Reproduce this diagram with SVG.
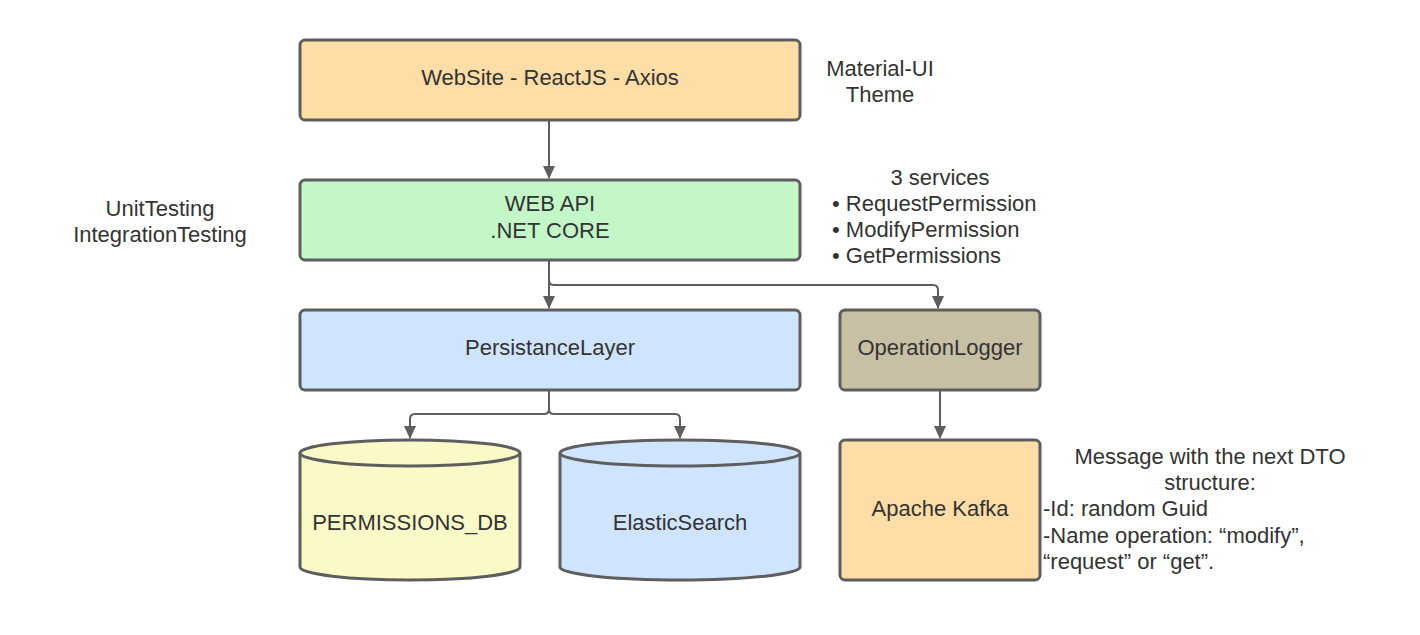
<svg xmlns="http://www.w3.org/2000/svg" width="1420" height="635" viewBox="0 0 1420 635">
<style>
.box{stroke:#5e5e5e;stroke-width:3}
.t{font-family:"Liberation Sans",Arial,sans-serif;font-size:22px;fill:#333333}
.c{text-anchor:middle}
.ln{fill:none;stroke:#5e5e5e;stroke-width:2}
</style>
<defs>
<marker id="ah" markerWidth="13" markerHeight="13" refX="12" refY="6.5" orient="auto" markerUnits="userSpaceOnUse">
<path d="M0,0.5 L13,6.5 L0,12.5 Z" fill="#5e5e5e"/>
</marker>
</defs>
<rect width="1420" height="635" fill="#ffffff"/>
<g id="connectors">
<path class="ln" d="M549,121 V178" marker-end="url(#ah)"/>
<path class="ln" d="M549,261 V308" marker-end="url(#ah)"/>
<path class="ln" d="M549,261 V280 Q549,285 554,285 H933 Q938,285 938,290 V308" marker-end="url(#ah)"/>
<path class="ln" d="M549,391 V409 Q549,414 544,414 H415 Q410,414 410,419 V438" marker-end="url(#ah)"/>
<path class="ln" d="M549,391 V409 Q549,414 554,414 H675 Q680,414 680,419 V438" marker-end="url(#ah)"/>
<path class="ln" d="M940,391 V438" marker-end="url(#ah)"/>
</g>
<g id="website">
<rect class="box" x="300" y="40" width="500" height="80" rx="5" fill="#ffdda6"/>
<text class="t c" x="550" y="85">WebSite - ReactJS - Axios</text>
</g>
<g id="material-note">
<text class="t c" x="880" y="76">Material-UI</text>
<text class="t c" x="880" y="102">Theme</text>
</g>
<g id="webapi">
<rect class="box" x="300" y="180" width="500" height="80" rx="5" fill="#c3f7c8"/>
<text class="t c" x="550" y="211">WEB API</text>
<text class="t c" x="550" y="238">.NET CORE</text>
</g>
<g id="testing-note">
<text class="t c" x="160" y="216">UnitTesting</text>
<text class="t c" x="160" y="242">IntegrationTesting</text>
</g>
<g id="services-note">
<text class="t c" x="940" y="185">3 services</text>
<text class="t" x="832" y="211">• RequestPermission</text>
<text class="t" x="832" y="237">• ModifyPermission</text>
<text class="t" x="832" y="263">• GetPermissions</text>
</g>
<g id="persistance">
<rect class="box" x="300" y="310" width="500" height="80" rx="5" fill="#cfe4ff"/>
<text class="t c" x="550" y="355">PersistanceLayer</text>
</g>
<g id="operationlogger">
<rect class="box" x="840" y="310" width="200" height="80" rx="5" fill="#c7c0a4"/>
<text class="t c" x="940" y="355">OperationLogger</text>
</g>
<g id="permissions-db">
<path class="box" d="M300,453 A110,13 0 0 1 520,453 V567 A110,13 0 0 1 300,567 Z" fill="#fafac8"/>
<path class="box" d="M300,453 A110,13 0 0 0 520,453" fill="none"/>
<text class="t c" x="410" y="530">PERMISSIONS_DB</text>
</g>
<g id="elasticsearch">
<path class="box" d="M560,453 A120,13 0 0 1 800,453 V567 A120,13 0 0 1 560,567 Z" fill="#cfe4ff"/>
<path class="box" d="M560,453 A120,13 0 0 0 800,453" fill="none"/>
<text class="t c" x="680" y="530">ElasticSearch</text>
</g>
<g id="kafka">
<rect class="box" x="840" y="440" width="200" height="140" rx="5" fill="#ffdda6"/>
<text class="t c" x="940" y="516">Apache Kafka</text>
</g>
<g id="dto-note">
<text class="t c" x="1210" y="464">Message with the next DTO</text>
<text class="t c" x="1210" y="490">structure:</text>
<text class="t" x="1043" y="516">-Id: random Guid</text>
<text class="t" x="1043" y="543">-Name operation: “modify”,</text>
<text class="t" x="1043" y="569">“request” or “get”.</text>
</g>
</svg>
